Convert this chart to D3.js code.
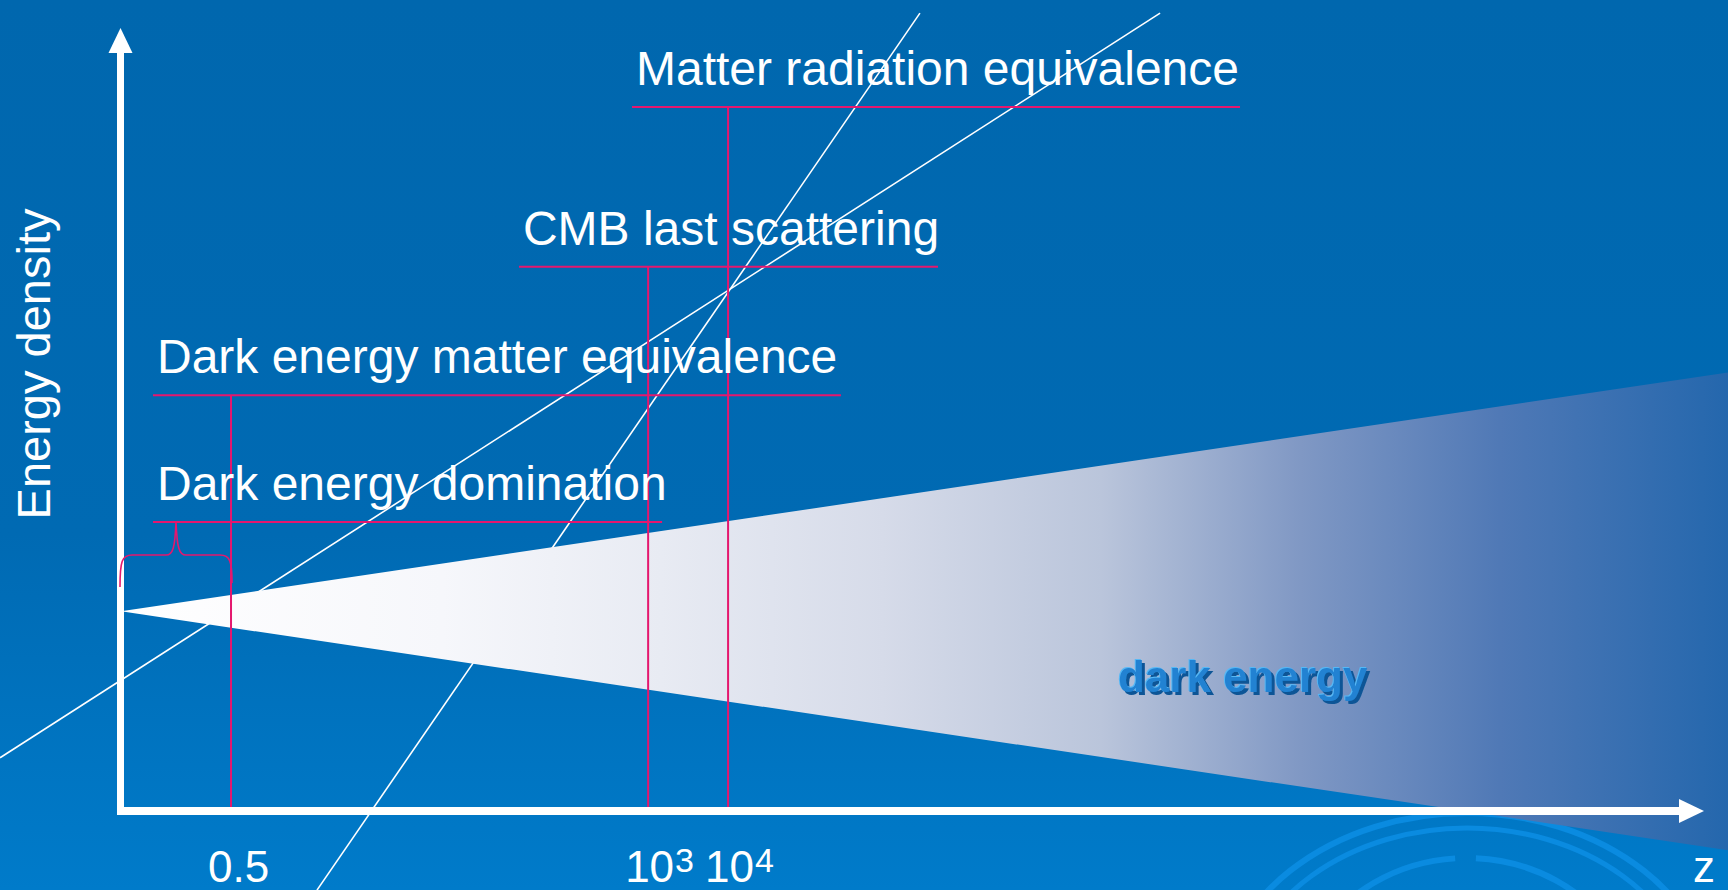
<!DOCTYPE html>
<html>
<head>
<meta charset="utf-8">
<script src="https://cdn.jsdelivr.net/npm/d3@7"></script>
<style>
  html, body { margin: 0; padding: 0; background: #0068b0; overflow: hidden; }
  svg { display: block; }
  text { font-family: "Liberation Sans", Arial, sans-serif; }
</style>
</head>
<body>
<svg id="chart" width="1728" height="890"></svg>
<script>
// Schematic axis positions (x: 0..1000 along the z axis, y: 0..100 energy density)
const epochNames  = ["Matter radiation equivalence", "CMB last scattering", "Dark energy matter equivalence", "Dark energy domination"];
const epochLevel  = [89.9, 69.5, 53.1, 36.9];   // height of each marker bar
const epochStart  = [322.8, 251.4, 20.2, 20.2];  // left end of marker bar
const epochEnd    = [706.9, 516.1, 454.8, 341.8];// right end of marker bar
const epochZ      = [383.5, 333, 69.5, null];    // z position dropped to the axis

const tickPos  = [69.5, 333, 383.5];
const tickBase = ["0.5", "10", "10"];
const tickSup  = ["", "3", "4"];

// Matter (∝(1+z)^3) and radiation (∝(1+z)^4) density tracks
const matterX = [-76.4, 656.4],  matterY = [6.8, 101.9];
const radX    = [123.8, 504.7],  radY    = [-10.1, 101.9];

// Dark energy band: apex at z = 0, widening uncertainty towards high z
const wedgeX    = [0, 1015.2];
const wedgeHigh = [25.5, 56.0];
const wedgeLow  = [25.5, -5.0];

// Domination interval (from today to z = 0.5)
const braceSpan = [0, 69.5];

const W = 1728, H = 890;
const svg = d3.select("#chart");
const x = d3.scaleLinear().domain([0, 1000]).range([121, 1704]);
const y = d3.scaleLinear().domain([0, 100]).range([811, 28]);

const defs = svg.append("defs");
const bg = defs.append("linearGradient").attr("id", "bg").attr("x1", 0).attr("y1", 0).attr("x2", 0).attr("y2", 1);
[[0, "#0067ae"], [0.6, "#006ab3"], [1, "#007bca"]].forEach(([o, c]) => bg.append("stop").attr("offset", o).attr("stop-color", c));

const wg = defs.append("linearGradient").attr("id", "wedge").attr("gradientUnits", "userSpaceOnUse")
  .attr("x1", x(0)).attr("y1", 0).attr("x2", W).attr("y2", 0);
[[0, "#ffffff"], [0.2, "#f6f7fb"], [0.336, "#e8ebf3"], [0.474, "#d6dbe9"], [0.61, "#bac5db"],
 [0.734, "#8098c4"], [0.858, "#5079b6"], [1, "#2467ad"]].forEach(([o, c]) => wg.append("stop").attr("offset", o).attr("stop-color", c));

// Raised-letter look for the band label
const emb = defs.append("filter").attr("id", "emboss").attr("x", "-10%").attr("y", "-20%").attr("width", "120%").attr("height", "150%");
emb.append("feOffset").attr("in", "SourceAlpha").attr("dx", 3).attr("dy", 3).attr("result", "o1");
emb.append("feFlood").attr("flood-color", "#0d5596");
emb.append("feComposite").attr("in2", "o1").attr("operator", "in").attr("result", "shadow");
emb.append("feOffset").attr("in", "SourceAlpha").attr("dx", -1.5).attr("dy", -1.5).attr("result", "o2");
emb.append("feFlood").attr("flood-color", "#55b8f6");
emb.append("feComposite").attr("in2", "o2").attr("operator", "in").attr("result", "hl");
const mg = emb.append("feMerge");
["shadow", "hl", "SourceGraphic"].forEach(n => mg.append("feMergeNode").attr("in", n));

svg.append("rect").attr("width", W).attr("height", H).attr("fill", "url(#bg)");

// Template watermark: concentric arcs in the lower right corner
const rings = [
  { rx: 250, ry: 197, a0: -90, a1: 90, w: 6 },
  { rx: 230, ry: 182, a0: -85, a1: 85, w: 5 },
  { rx: 170, ry: 152, a0: -62, a1: -4, w: 6 },
  { rx: 170, ry: 152, a0: 3, a1: 60, w: 6 },
  { rx: 120, ry: 128, a0: -75, a1: -58, w: 6 }
];
const rc = [1467, 1010];
const ringPath = r => {
  const p = a => [rc[0] + r.rx * Math.sin(a * Math.PI / 180), rc[1] - r.ry * Math.cos(a * Math.PI / 180)];
  const s = p(r.a0), e = p(r.a1);
  return `M${s[0]},${s[1]}A${r.rx},${r.ry} 0 0 1 ${e[0]},${e[1]}`;
};
svg.append("g").selectAll("path").data(rings).join("path")
  .attr("d", ringPath).attr("fill", "none").attr("stroke", "#0a8be0").attr("stroke-width", d => d.w);

// Density tracks
const lineGen = d3.line().x(d => x(d[0])).y(d => y(d[1]));
svg.append("g").selectAll("path").data([d3.zip(matterX, matterY), d3.zip(radX, radY)]).join("path")
  .attr("d", lineGen).attr("fill", "none").attr("stroke", "#ffffff").attr("stroke-width", 1.6);

// Dark energy band
const area = d3.area().x(d => x(d[0])).y0(d => y(d[1])).y1(d => y(d[2]));
svg.append("path").datum(d3.zip(wedgeX, wedgeLow, wedgeHigh)).attr("d", area).attr("fill", "url(#wedge)");

// Epoch markers
const pink = "#e5176e";
const mk = svg.append("g").attr("stroke", pink).attr("stroke-width", 2).attr("fill", "none");
epochNames.forEach((n, i) => {
  mk.append("line").attr("x1", x(epochStart[i])).attr("x2", x(epochEnd[i]))
    .attr("y1", y(epochLevel[i])).attr("y2", y(epochLevel[i]));
  if (epochZ[i] !== null) {
    mk.append("line").attr("x1", x(epochZ[i])).attr("x2", x(epochZ[i]))
      .attr("y1", y(epochLevel[i])).attr("y2", y(0));
  }
});

// Epoch labels
svg.append("g").selectAll("text").data(epochNames).join("text")
  .attr("x", (d, i) => x(epochStart[i]) + 4)
  .attr("y", (d, i) => y(epochLevel[i]) - 22)
  .attr("fill", "#ffffff").attr("font-size", 48)
  .text(d => d);

// Dark energy label
const deLabel = { text: "dark energy", x: 629.8, y: 15.2 };
svg.append("text").attr("x", x(deLabel.x)).attr("y", y(deLabel.y))
  .attr("font-size", 44).attr("font-weight", "bold").attr("fill", "#2082d2")
  .attr("filter", "url(#emboss)").text(deLabel.text);

// Axes with arrow heads
const ax = svg.append("g").attr("fill", "#ffffff");
ax.append("rect").attr("x", x(0) - 4).attr("y", y(0) - 4).attr("width", x(1000) - 22 - x(0) + 4).attr("height", 8);
ax.append("rect").attr("x", x(0) - 4).attr("y", y(100) + 22).attr("width", 7).attr("height", y(0) + 4 - y(100) - 22);
ax.append("path").attr("d", `M${x(1000)},${y(0)}L${x(1000) - 25},${y(0) - 12}L${x(1000) - 25},${y(0) + 12}Z`);
ax.append("path").attr("d", `M${x(0) - 0.5},${y(100)}L${x(0) - 12.5},${y(100) + 25}L${x(0) + 11.5},${y(100) + 25}Z`);

// Curly brace over the domination interval
{
  const xa = x(braceSpan[0]) - 1, xb = x(braceSpan[1]) + 1, xm = (xa + xb) / 2;
  const top = y(epochLevel[3]), mid = top + 33, end = top + 65;
  const p = d3.path();
  p.moveTo(xa, end);
  p.bezierCurveTo(xa, mid + 6, xa + 2, mid, xa + 12, mid);
  p.lineTo(xm - 10, mid);
  p.bezierCurveTo(xm - 3, mid, xm - 1, mid - 8, xm, top);
  p.bezierCurveTo(xm + 1, mid - 8, xm + 3, mid, xm + 10, mid);
  p.lineTo(xb - 12, mid);
  p.bezierCurveTo(xb - 2, mid, xb, mid + 6, xb, end - 4);
  svg.append("path").attr("d", p.toString()).attr("fill", "none").attr("stroke", pink).attr("stroke-width", 1.6);
}

// Tick labels: mantissa starts just left of the tick, exponent raised after it
const tl = svg.append("g").attr("fill", "#ffffff");
tickPos.forEach((p, i) => {
  const t = tl.append("text").attr("x", x(p) - 23).attr("y", y(0) + 71).attr("font-size", 44).text(tickBase[i]);
  if (tickSup[i]) {
    const w = t.node().getComputedTextLength();
    tl.append("text").attr("x", x(p) - 23 + w + 1).attr("y", y(0) + 61).attr("font-size", 34).text(tickSup[i]);
  }
});

// Axis titles
svg.append("text").attr("x", x(1000)).attr("y", y(0) + 71).attr("text-anchor", "middle")
  .attr("font-size", 44).attr("fill", "#ffffff").text("z");
svg.append("text").attr("transform", `translate(50,364) rotate(-90)`).attr("text-anchor", "middle")
  .attr("font-size", 47).attr("fill", "#ffffff").text("Energy density");
</script>
</body>
</html>
